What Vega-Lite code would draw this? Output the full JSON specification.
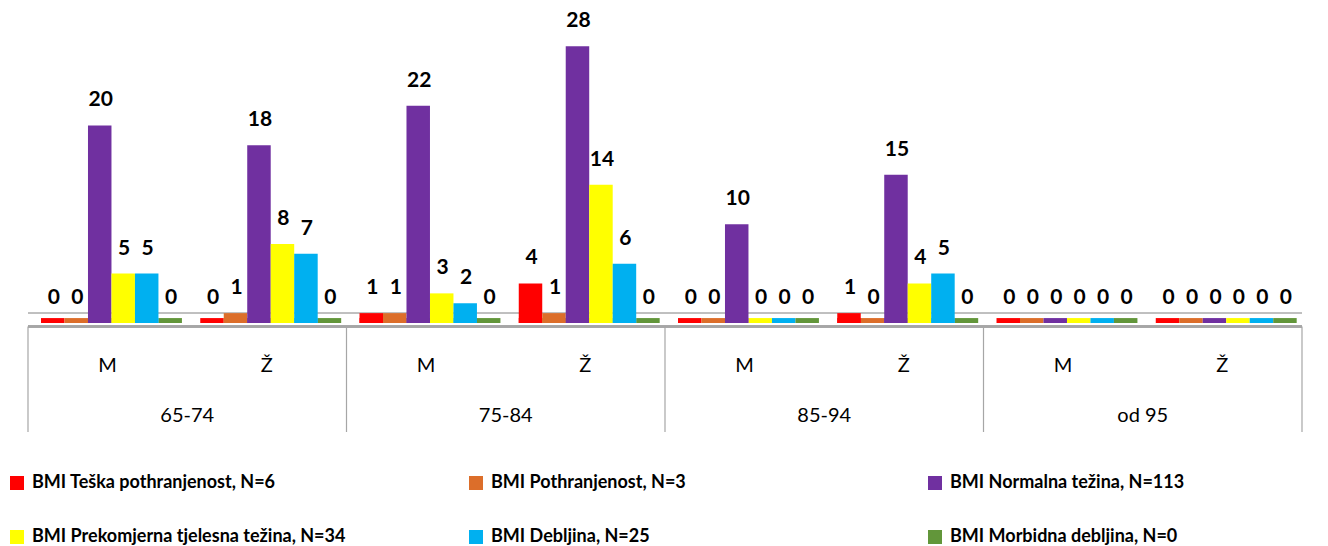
{
  "$schema": "https://vega.github.io/schema/vega-lite/v6.json",
  "width": 1274,
  "height": 432,
  "autosize": {"type": "none"},
  "padding": {"left": 28, "top": 0, "right": 26, "bottom": 114},
  "background": "white",
  "config": {"view": {"stroke": null}, "font": "Lato"},
  "data": {
    "values": [
      {"age": "65-74", "sex": "M", "key": "65-74|M", "bmi": "BMI Teška pothranjenost, N=6", "n": 0},
      {"age": "65-74", "sex": "M", "key": "65-74|M", "bmi": "BMI Pothranjenost, N=3", "n": 0},
      {"age": "65-74", "sex": "M", "key": "65-74|M", "bmi": "BMI Normalna težina, N=113", "n": 20},
      {"age": "65-74", "sex": "M", "key": "65-74|M", "bmi": "BMI Prekomjerna tjelesna težina, N=34", "n": 5},
      {"age": "65-74", "sex": "M", "key": "65-74|M", "bmi": "BMI Debljina, N=25", "n": 5},
      {"age": "65-74", "sex": "M", "key": "65-74|M", "bmi": "BMI Morbidna debljina, N=0", "n": 0},
      {"age": "65-74", "sex": "Ž", "key": "65-74|Ž", "bmi": "BMI Teška pothranjenost, N=6", "n": 0},
      {"age": "65-74", "sex": "Ž", "key": "65-74|Ž", "bmi": "BMI Pothranjenost, N=3", "n": 1},
      {"age": "65-74", "sex": "Ž", "key": "65-74|Ž", "bmi": "BMI Normalna težina, N=113", "n": 18},
      {"age": "65-74", "sex": "Ž", "key": "65-74|Ž", "bmi": "BMI Prekomjerna tjelesna težina, N=34", "n": 8},
      {"age": "65-74", "sex": "Ž", "key": "65-74|Ž", "bmi": "BMI Debljina, N=25", "n": 7},
      {"age": "65-74", "sex": "Ž", "key": "65-74|Ž", "bmi": "BMI Morbidna debljina, N=0", "n": 0},
      {"age": "75-84", "sex": "M", "key": "75-84|M", "bmi": "BMI Teška pothranjenost, N=6", "n": 1},
      {"age": "75-84", "sex": "M", "key": "75-84|M", "bmi": "BMI Pothranjenost, N=3", "n": 1},
      {"age": "75-84", "sex": "M", "key": "75-84|M", "bmi": "BMI Normalna težina, N=113", "n": 22},
      {"age": "75-84", "sex": "M", "key": "75-84|M", "bmi": "BMI Prekomjerna tjelesna težina, N=34", "n": 3},
      {"age": "75-84", "sex": "M", "key": "75-84|M", "bmi": "BMI Debljina, N=25", "n": 2},
      {"age": "75-84", "sex": "M", "key": "75-84|M", "bmi": "BMI Morbidna debljina, N=0", "n": 0},
      {"age": "75-84", "sex": "Ž", "key": "75-84|Ž", "bmi": "BMI Teška pothranjenost, N=6", "n": 4},
      {"age": "75-84", "sex": "Ž", "key": "75-84|Ž", "bmi": "BMI Pothranjenost, N=3", "n": 1},
      {"age": "75-84", "sex": "Ž", "key": "75-84|Ž", "bmi": "BMI Normalna težina, N=113", "n": 28},
      {"age": "75-84", "sex": "Ž", "key": "75-84|Ž", "bmi": "BMI Prekomjerna tjelesna težina, N=34", "n": 14},
      {"age": "75-84", "sex": "Ž", "key": "75-84|Ž", "bmi": "BMI Debljina, N=25", "n": 6},
      {"age": "75-84", "sex": "Ž", "key": "75-84|Ž", "bmi": "BMI Morbidna debljina, N=0", "n": 0},
      {"age": "85-94", "sex": "M", "key": "85-94|M", "bmi": "BMI Teška pothranjenost, N=6", "n": 0},
      {"age": "85-94", "sex": "M", "key": "85-94|M", "bmi": "BMI Pothranjenost, N=3", "n": 0},
      {"age": "85-94", "sex": "M", "key": "85-94|M", "bmi": "BMI Normalna težina, N=113", "n": 10},
      {"age": "85-94", "sex": "M", "key": "85-94|M", "bmi": "BMI Prekomjerna tjelesna težina, N=34", "n": 0},
      {"age": "85-94", "sex": "M", "key": "85-94|M", "bmi": "BMI Debljina, N=25", "n": 0},
      {"age": "85-94", "sex": "M", "key": "85-94|M", "bmi": "BMI Morbidna debljina, N=0", "n": 0},
      {"age": "85-94", "sex": "Ž", "key": "85-94|Ž", "bmi": "BMI Teška pothranjenost, N=6", "n": 1},
      {"age": "85-94", "sex": "Ž", "key": "85-94|Ž", "bmi": "BMI Pothranjenost, N=3", "n": 0},
      {"age": "85-94", "sex": "Ž", "key": "85-94|Ž", "bmi": "BMI Normalna težina, N=113", "n": 15},
      {"age": "85-94", "sex": "Ž", "key": "85-94|Ž", "bmi": "BMI Prekomjerna tjelesna težina, N=34", "n": 4},
      {"age": "85-94", "sex": "Ž", "key": "85-94|Ž", "bmi": "BMI Debljina, N=25", "n": 5},
      {"age": "85-94", "sex": "Ž", "key": "85-94|Ž", "bmi": "BMI Morbidna debljina, N=0", "n": 0},
      {"age": "od 95", "sex": "M", "key": "od 95|M", "bmi": "BMI Teška pothranjenost, N=6", "n": 0},
      {"age": "od 95", "sex": "M", "key": "od 95|M", "bmi": "BMI Pothranjenost, N=3", "n": 0},
      {"age": "od 95", "sex": "M", "key": "od 95|M", "bmi": "BMI Normalna težina, N=113", "n": 0},
      {"age": "od 95", "sex": "M", "key": "od 95|M", "bmi": "BMI Prekomjerna tjelesna težina, N=34", "n": 0},
      {"age": "od 95", "sex": "M", "key": "od 95|M", "bmi": "BMI Debljina, N=25", "n": 0},
      {"age": "od 95", "sex": "M", "key": "od 95|M", "bmi": "BMI Morbidna debljina, N=0", "n": 0},
      {"age": "od 95", "sex": "Ž", "key": "od 95|Ž", "bmi": "BMI Teška pothranjenost, N=6", "n": 0},
      {"age": "od 95", "sex": "Ž", "key": "od 95|Ž", "bmi": "BMI Pothranjenost, N=3", "n": 0},
      {"age": "od 95", "sex": "Ž", "key": "od 95|Ž", "bmi": "BMI Normalna težina, N=113", "n": 0},
      {"age": "od 95", "sex": "Ž", "key": "od 95|Ž", "bmi": "BMI Prekomjerna tjelesna težina, N=34", "n": 0},
      {"age": "od 95", "sex": "Ž", "key": "od 95|Ž", "bmi": "BMI Debljina, N=25", "n": 0},
      {"age": "od 95", "sex": "Ž", "key": "od 95|Ž", "bmi": "BMI Morbidna debljina, N=0", "n": 0}
    ]
  },
  "encoding": {
    "x": {
      "field": "key",
      "type": "nominal",
      "sort": null,
      "scale": {"paddingInner": 0, "paddingOuter": 0},
      "axis": null
    }
  },
  "layer": [
    {
      "description": "back edge of the floor plate",
      "mark": {"type": "rule", "color": "#bfbfbf", "strokeWidth": 1.5},
      "encoding": {"x": null, "y": {"datum": 1.0, "type": "quantitative", "scale": {"domain": [-11.03, 32.69], "nice": false, "zero": false}, "axis": null}}
    },
    {
      "description": "floor face under each bar, visible where a count is zero",
      "mark": {"type": "bar"},
      "encoding": {
        "xOffset": {"field": "bmi", "type": "nominal", "sort": null, "scale": {"paddingInner": 0, "paddingOuter": 0.39, "align": 0.71}},
        "y": {"datum": 0, "type": "quantitative"},
        "y2": {"datum": 0.5},
        "color": {"field": "bmi", "type": "nominal", "sort": null}
      }
    },
    {
      "mark": {"type": "bar"},
      "encoding": {
        "xOffset": {"field": "bmi", "type": "nominal", "sort": null},
        "y": {"field": "n", "type": "quantitative"},
        "y2": {"datum": 0},
        "color": {
          "field": "bmi",
          "type": "nominal",
          "sort": null,
          "scale": {
            "domain": [
              "BMI Teška pothranjenost, N=6",
              "BMI Pothranjenost, N=3",
              "BMI Normalna težina, N=113",
              "BMI Prekomjerna tjelesna težina, N=34",
              "BMI Debljina, N=25",
              "BMI Morbidna debljina, N=0"
            ],
            "range": ["#ff0000", "#dc6e2a", "#7030a0", "#ffff00", "#00b0f0", "#62963a"]
          },
          "legend": {
            "title": null,
            "orient": "none",
            "legendX": -20,
            "legendY": 474,
            "direction": "horizontal",
            "columns": 3,
            "gridAlign": "all",
            "columnPadding": 121,
            "rowPadding": 36,
            "symbolType": "square",
            "symbolSize": 196,
            "symbolStrokeWidth": 0,
            "labelFont": "Lato",
            "labelFontSize": 18,
            "labelFontWeight": "bold",
            "labelColor": "#000000",
            "labelLimit": 400,
            "labelOffset": 6
          }
        }
      }
    },
    {
      "mark": {"type": "text", "font": "Lato", "fontSize": 21, "fontWeight": "bold", "color": "#000000", "baseline": "middle", "dy": -25, "dx": 1},
      "encoding": {
        "xOffset": {"field": "bmi", "type": "nominal", "sort": null},
        "y": {"field": "n", "type": "quantitative"},
        "text": {"field": "n", "type": "quantitative"}
      }
    },
    {
      "description": "front edge of the floor plate",
      "mark": {"type": "rule", "color": "#a6a6a6", "strokeWidth": 1.5},
      "encoding": {"x": null, "y": {"datum": -0.35, "type": "quantitative"}}
    },
    {
      "description": "dividers between age groups",
      "transform": [{"filter": "datum.sex == 'M' && datum.bmi == 'BMI Teška pothranjenost, N=6'"}],
      "mark": {"type": "rule", "color": "#a6a6a6", "strokeWidth": 1.2},
      "encoding": {
        "x": {"field": "key", "type": "nominal", "sort": null, "bandPosition": 0},
        "y": {"datum": -0.35, "type": "quantitative"},
        "y2": {"datum": -11.03}
      }
    },
    {
      "transform": [{"filter": "datum.key == 'od 95|Ž' && datum.bmi == 'BMI Teška pothranjenost, N=6'"}],
      "mark": {"type": "rule", "color": "#a6a6a6", "strokeWidth": 1.2},
      "encoding": {
        "x": {"field": "key", "type": "nominal", "sort": null, "bandPosition": 1},
        "y": {"datum": -0.35, "type": "quantitative"},
        "y2": {"datum": -11.03}
      }
    },
    {
      "description": "sex labels",
      "transform": [{"filter": "datum.bmi == 'BMI Teška pothranjenost, N=6'"}],
      "mark": {"type": "text", "font": "Lato", "fontSize": 20, "color": "#000000", "baseline": "middle"},
      "encoding": {
        "y": {"datum": -4.3, "type": "quantitative"},
        "text": {"field": "sex"}
      }
    },
    {
      "description": "age group labels",
      "transform": [{"filter": "datum.sex == 'M' && datum.bmi == 'BMI Teška pothranjenost, N=6'"}],
      "mark": {"type": "text", "font": "Lato", "fontSize": 20, "color": "#000000", "baseline": "middle"},
      "encoding": {
        "x": {"field": "key", "type": "nominal", "sort": null, "bandPosition": 1},
        "y": {"datum": -9.4, "type": "quantitative"},
        "text": {"field": "age"}
      }
    }
  ]
}
